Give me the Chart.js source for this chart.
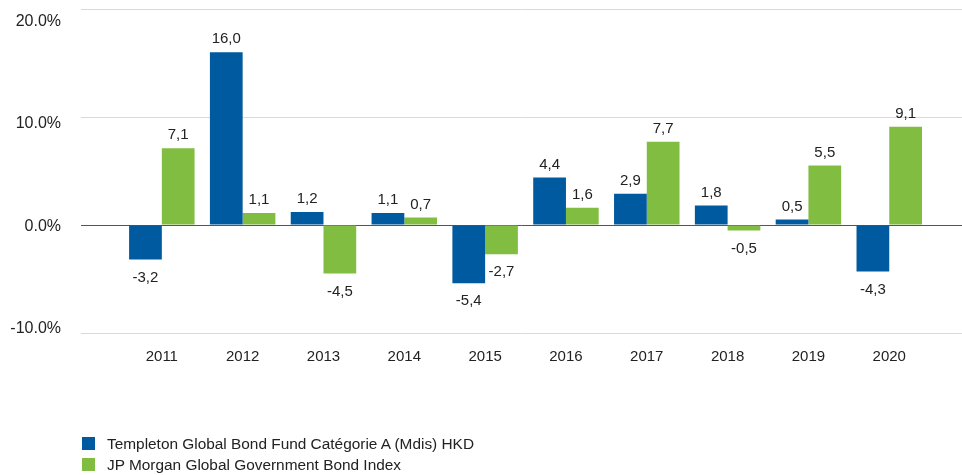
<!DOCTYPE html>
<html>
<head>
<meta charset="utf-8">
<script src="https://cdn.jsdelivr.net/npm/chart.js@4.4.1/dist/chart.umd.min.js"></script>
<style>
  html, body { margin: 0; padding: 0; background: #fff; }
  #wrap { position: relative; width: 962px; height: 475px; }
  #legend { position: absolute; left: 82px; top: 433px; font-family: "Liberation Sans", Arial, sans-serif; font-size: 15.4px; color: #222; }
  #legend div { display: flex; align-items: center; height: 21px; }
  #legend span.box { display: inline-block; width: 13px; height: 13px; margin-right: 12px; }
</style>
</head>
<body>
<div id="wrap">
  <canvas id="perfChart" width="962" height="475"></canvas>
  <div id="legend"></div>
</div>
<script>
const years = ['2011', '2012', '2013', '2014', '2015', '2016', '2017', '2018', '2019', '2020'];
const fundValues = [-3.2, 16.0, 1.2, 1.1, -5.4, 4.4, 2.9, 1.8, 0.5, -4.3];
const indexValues = [7.1, 1.1, -4.5, 0.7, -2.7, 1.6, 7.7, -0.5, 5.5, 9.1];
const seriesNames = ['Templeton Global Bond Fund Catégorie A (Mdis) HKD', 'JP Morgan Global Government Bond Index'];
const seriesColors = ['#005a9f', '#80bd41'];

const fontFamily = '"Liberation Sans", Arial, sans-serif';

function toPoints(values) {
    return values.map(function (v, i) { return { x: i, y: v }; });
}

function pctLabel(v) {
    return v.toFixed(1) + '%';
}

const valueLabels = {
    id: 'valueLabels',
    afterDatasetsDraw(chart) {
        const ctx = chart.ctx;
        ctx.save();
        ctx.font = '15px ' + fontFamily;
        ctx.fillStyle = '#222';
        ctx.textAlign = 'center';
        ctx.textBaseline = 'middle';
        chart.data.datasets.forEach(function (ds, di) {
            chart.getDatasetMeta(di).data.forEach(function (bar, i) {
                const v = ds.data[i].y;
                const txt = v.toFixed(1).replace('.', ',');
                const y = v >= 0 ? bar.y - 13 : bar.y + 18;
                ctx.fillText(txt, bar.x, y);
            });
        });
        ctx.restore();
    }
};

const chart = new Chart(document.getElementById('perfChart').getContext('2d'), {
    type: 'bar',
    data: {
        datasets: [{
            label: seriesNames[0],
            data: toPoints(fundValues),
            backgroundColor: seriesColors[0]
        }, {
            label: seriesNames[1],
            data: toPoints(indexValues),
            backgroundColor: seriesColors[1]
        }]
    },
    options: {
        responsive: false,
        animation: false,
        barPercentage: 1,
        categoryPercentage: 0.81,
        layout: { padding: { top: 9, right: 0, bottom: 0, left: 0 } },
        plugins: {
            legend: { display: false },
            tooltip: { enabled: false }
        },
        scales: {
            x: {
                type: 'linear',
                offset: false,
                min: -1,
                max: 9.9,
                afterFit: function (s) { s.height = 142; s.paddingLeft = 0; s.paddingRight = 0; },
                grid: { display: false, drawTicks: false },
                border: { display: false },
                ticks: {
                    stepSize: 1,
                    includeBounds: false,
                    padding: 15,
                    autoSkip: false,
                    maxRotation: 0,
                    color: '#222',
                    font: { family: fontFamily, size: 15 },
                    callback: function (v) {
                        return Number.isInteger(v) && v >= 0 && v < years.length ? years[v] : '';
                    }
                }
            },
            y: {
                min: -10,
                max: 20,
                afterFit: function (s) { s.width = 0; s.paddingTop = 0; s.paddingBottom = 0; },
                grid: {
                    drawTicks: false,
                    color: function (c) { return c.tick && c.tick.value === 0 ? '#555' : '#d9d9d9'; },
                    lineWidth: 1
                },
                border: { display: false },
                ticks: { stepSize: 10, display: false }
            },
            yLabels: {
                position: 'left',
                min: -10.41,
                max: 21.24,
                afterFit: function (s) { s.width = 81; s.paddingTop = 0; s.paddingBottom = 0; },
                grid: { display: false, drawTicks: false },
                border: { display: false },
                ticks: {
                    stepSize: 10,
                    includeBounds: false,
                    padding: 20,
                    color: '#222',
                    font: { family: fontFamily, size: 16 },
                    callback: pctLabel
                }
            }
        }
    },
    plugins: [valueLabels]
});

const legendEl = document.getElementById('legend');
chart.data.datasets.forEach(function (ds) {
    const row = document.createElement('div');
    const box = document.createElement('span');
    box.className = 'box';
    box.style.background = ds.backgroundColor;
    row.appendChild(box);
    row.appendChild(document.createTextNode(ds.label));
    legendEl.appendChild(row);
});
</script>
</body>
</html>
